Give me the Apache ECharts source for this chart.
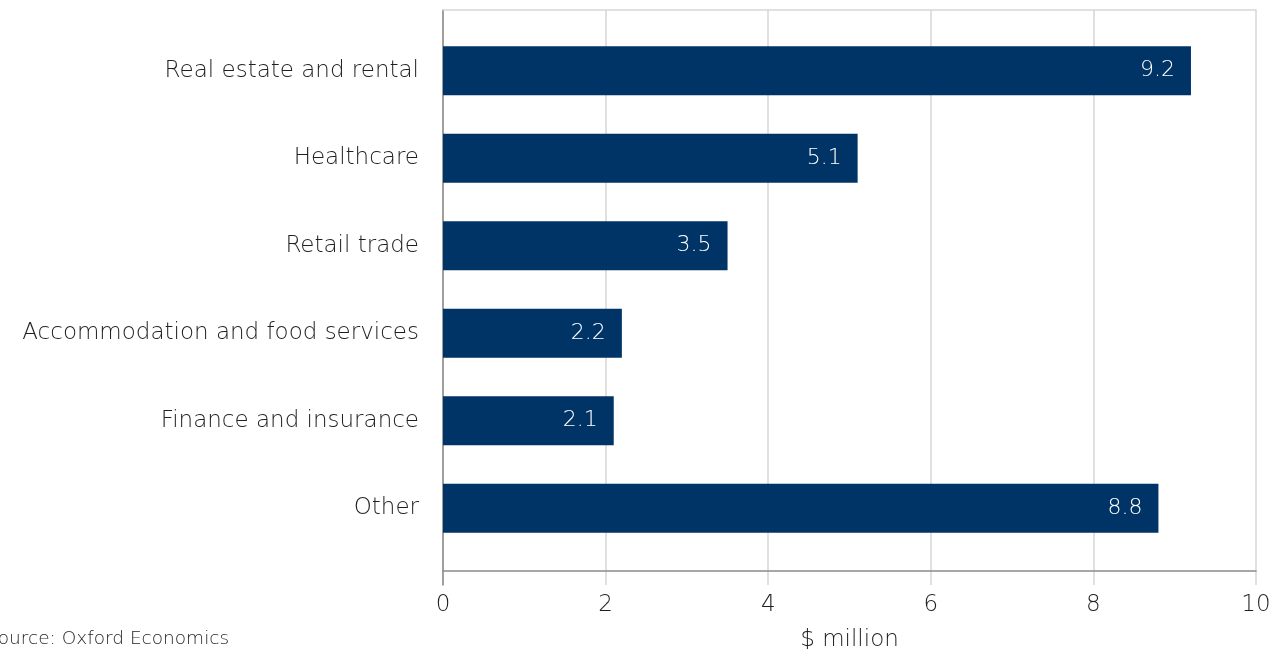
<!DOCTYPE html>
<html>
<head>
<meta charset="utf-8">
<script src="https://cdn.jsdelivr.net/npm/echarts@6/dist/echarts.min.js"></script>
<style>
  html, body { margin: 0; padding: 0; background: #ffffff; }
  #chart { width: 1280px; height: 649px; }
</style>
</head>
<body>
<div id="chart"></div>
<script>
// Economic impact by industry, $ million
const categories = [
  'Real estate and rental',
  'Healthcare',
  'Retail trade',
  'Accommodation and food services',
  'Finance and insurance',
  'Other'
];
const values = [9.2, 5.1, 3.5, 2.2, 2.1, 8.8];
const xTicks = [0, 2, 4, 6, 8, 10];

const FONT = '"DejaVu Sans", "Open Sans", sans-serif';
const TEXT = '#1f1f1f';
const GRID = '#d9d6d2';
const AXIS = '#8a8a8a';
const BAR = '#003366';

const chart = echarts.init(document.getElementById('chart'));

chart.setOption({
  animation: false,
  textStyle: { fontFamily: FONT },
  grid: [
    // frame: gridlines, axis lines and tick labels
    { left: 443, right: 24, top: 10, bottom: 64, containLabel: false, outerBoundsMode: 'none' },
    // bars
    { left: 443, right: 24, top: 27, bottom: 97, containLabel: false, outerBoundsMode: 'none' }
  ],
  xAxis: [
    {
      gridIndex: 0,
      type: 'value',
      min: xTicks[0],
      max: xTicks[xTicks.length - 1],
      interval: xTicks[1] - xTicks[0],
      position: 'bottom',
      axisLine: { show: true, onZero: true, lineStyle: { color: AXIS, width: 1.5 } },
      axisTick: { show: false },
      splitLine: { show: true, lineStyle: { color: GRID, width: 1.5 } },
      axisLabel: { color: TEXT, fontSize: 23, fontWeight: 300, margin: 9 },
      name: '$ million',
      nameLocation: 'middle',
      nameGap: 44,
      nameTextStyle: { color: TEXT, fontSize: 23, fontWeight: 300 }
    },
    {
      gridIndex: 0,
      type: 'value',
      min: xTicks[0],
      max: xTicks[xTicks.length - 1],
      position: 'top',
      axisLine: { show: true, onZero: false, lineStyle: { color: GRID, width: 1.5 } },
      axisTick: { show: false },
      axisLabel: { show: false },
      splitLine: { show: false }
    },
    {
      gridIndex: 1,
      type: 'value',
      min: xTicks[0],
      max: xTicks[xTicks.length - 1],
      show: false
    }
  ],
  yAxis: [
    {
      gridIndex: 0,
      type: 'value',
      min: -14 / 561,
      max: 1,
      axisLine: { show: true, onZero: true, lineStyle: { color: AXIS, width: 1.5 } },
      axisTick: { show: false },
      axisLabel: { show: false },
      splitLine: { show: false }
    },
    {
      gridIndex: 1,
      type: 'category',
      data: categories,
      inverse: true,
      axisLine: { show: false },
      axisTick: { show: false },
      splitLine: { show: false },
      axisLabel: { color: TEXT, fontSize: 23, fontWeight: 300, margin: 24 }
    }
  ],
  series: [
    {
      type: 'bar',
      xAxisIndex: 2,
      yAxisIndex: 1,
      data: values,
      barWidth: 49,
      itemStyle: { color: BAR },
      label: {
        show: true,
        position: 'insideRight',
        distance: 16,
        color: '#ffffff',
        fontSize: 22,
        fontWeight: 300,
        formatter: (p) => p.value.toFixed(1)
      }
    }
  ],
  graphic: [
    {
      type: 'text',
      left: -14,
      top: 630,
      style: {
        text: 'Source: Oxford Economics',
        fill: TEXT,
        font: '300 18.5px ' + FONT
      }
    }
  ]
});
</script>
</body>
</html>
